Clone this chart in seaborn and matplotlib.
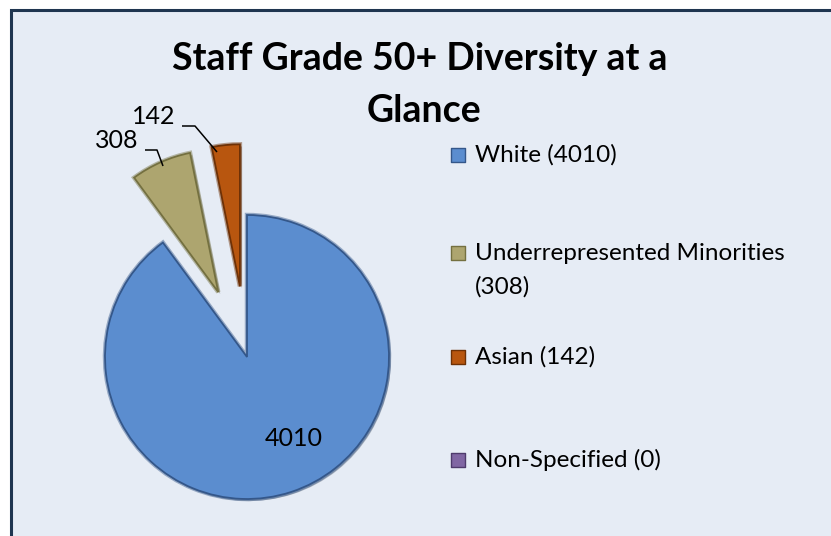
import matplotlib
matplotlib.use("Agg")
import matplotlib.pyplot as plt
import seaborn as sns
from matplotlib.patches import Rectangle
import matplotlib.patheffects as pe

# ---- data ----
categories = ["White", "Underrepresented Minorities", "Asian", "Non-Specified"]
values = [4010, 308, 142, 0]
legend_labels = [["White (4010)"], ["Underrepresented Minorities", "(308)"], ["Asian (142)"], ["Non-Specified (0)"]]
data_labels = ["4010", "308", "142"]
title_lines = ["Staff Grade 50+ Diversity at a", "Glance"]

# ---- style ----
colors = ["#5B8DCF", "#ADA56F", "#B8560F", "#8066A3"]
edges = ["#34578A", "#747040", "#6E3106", "#4E3B6C"]
bg = "#E6ECF5"
explode = [0.0, 0.5, 0.5, 0.0]

sns.set_theme(style="white")
plt.rcParams["font.family"] = ["Lato", "DejaVu Sans"]
plt.rcParams["text.color"] = "black"

W, H = 831, 536
fig = plt.figure(figsize=(W / 100, H / 100), dpi=100)
fig.patch.set_facecolor("white")

# chart-area frame
frame = Rectangle((11 / W, -0.05), 1.2, (H - 10) / H + 0.05, transform=fig.transFigure,
                  facecolor=bg, edgecolor="#1F3550", linewidth=2.2, zorder=-10)
fig.patches.append(frame)

ax = fig.add_axes([0, 0, 1, 1])
ax.set_facecolor("none")

cx, cy, R = 247, 357, 142  # pixel centre & radius


def P(x, y):
    return ((x - cx) / R, (cy - y) / R)


nz = [i for i, v in enumerate(values) if v > 0]
wedges, _ = ax.pie([values[i] for i in nz], explode=[explode[i] for i in nz],
                   colors=[colors[i] for i in nz], startangle=90, counterclock=False,
                   radius=1.0, frame=False)
for w, i in zip(wedges, nz):
    w.set_edgecolor(edges[i])
    w.set_linewidth(1.3)
    w.set_path_effects([pe.SimplePatchShadow(offset=(1.5, -1.5), alpha=0.3),
                        pe.Stroke(linewidth=3.2, foreground=edges[i], alpha=0.45),
                        pe.Normal()])

ax.set_aspect("auto")
x0, y0 = P(0, H)
x1, y1 = P(W, 0)
ax.set_xlim(x0, x1)
ax.set_ylim(y0, y1)
ax.axis("off")

# data labels
lab_fs = 18
ax.text(*P(294, 438), data_labels[0], ha="center", va="center", fontsize=lab_fs, color="black")
ax.text(*P(117, 141), data_labels[1], ha="center", va="center", fontsize=lab_fs, color="black")
ax.text(*P(154, 117), data_labels[2], ha="center", va="center", fontsize=lab_fs, color="black")

# leader lines
for pts in ([(145, 150), (157, 150), (163, 166)], [(182, 126), (195, 126), (217, 152)]):
    xs, ys = zip(*[P(*p) for p in pts])
    ax.plot(xs, ys, color="black", lw=1.1, solid_capstyle="butt")

# title
ax.text(*P(420, 70), title_lines[0], ha="center", va="baseline", fontsize=27,
        fontweight="bold", color="black")
ax.text(*P(424, 122), title_lines[1], ha="center", va="baseline", fontsize=27,
        fontweight="bold", color="black")

# legend
leg_y = [155, 253, 357, 460]
line_gap = 34
for i, (lines, y) in enumerate(zip(legend_labels, leg_y)):
    mx, my = P(458, y)
    ax.scatter([mx], [my], marker="s", s=100, color=colors[i], edgecolor=edges[i], linewidth=1.0)
    for k, ln in enumerate(lines):
        ax.text(*P(475, y + k * line_gap), ln, ha="left", va="center", fontsize=17.5, color="black")

fig.savefig("out.png", dpi=100)
